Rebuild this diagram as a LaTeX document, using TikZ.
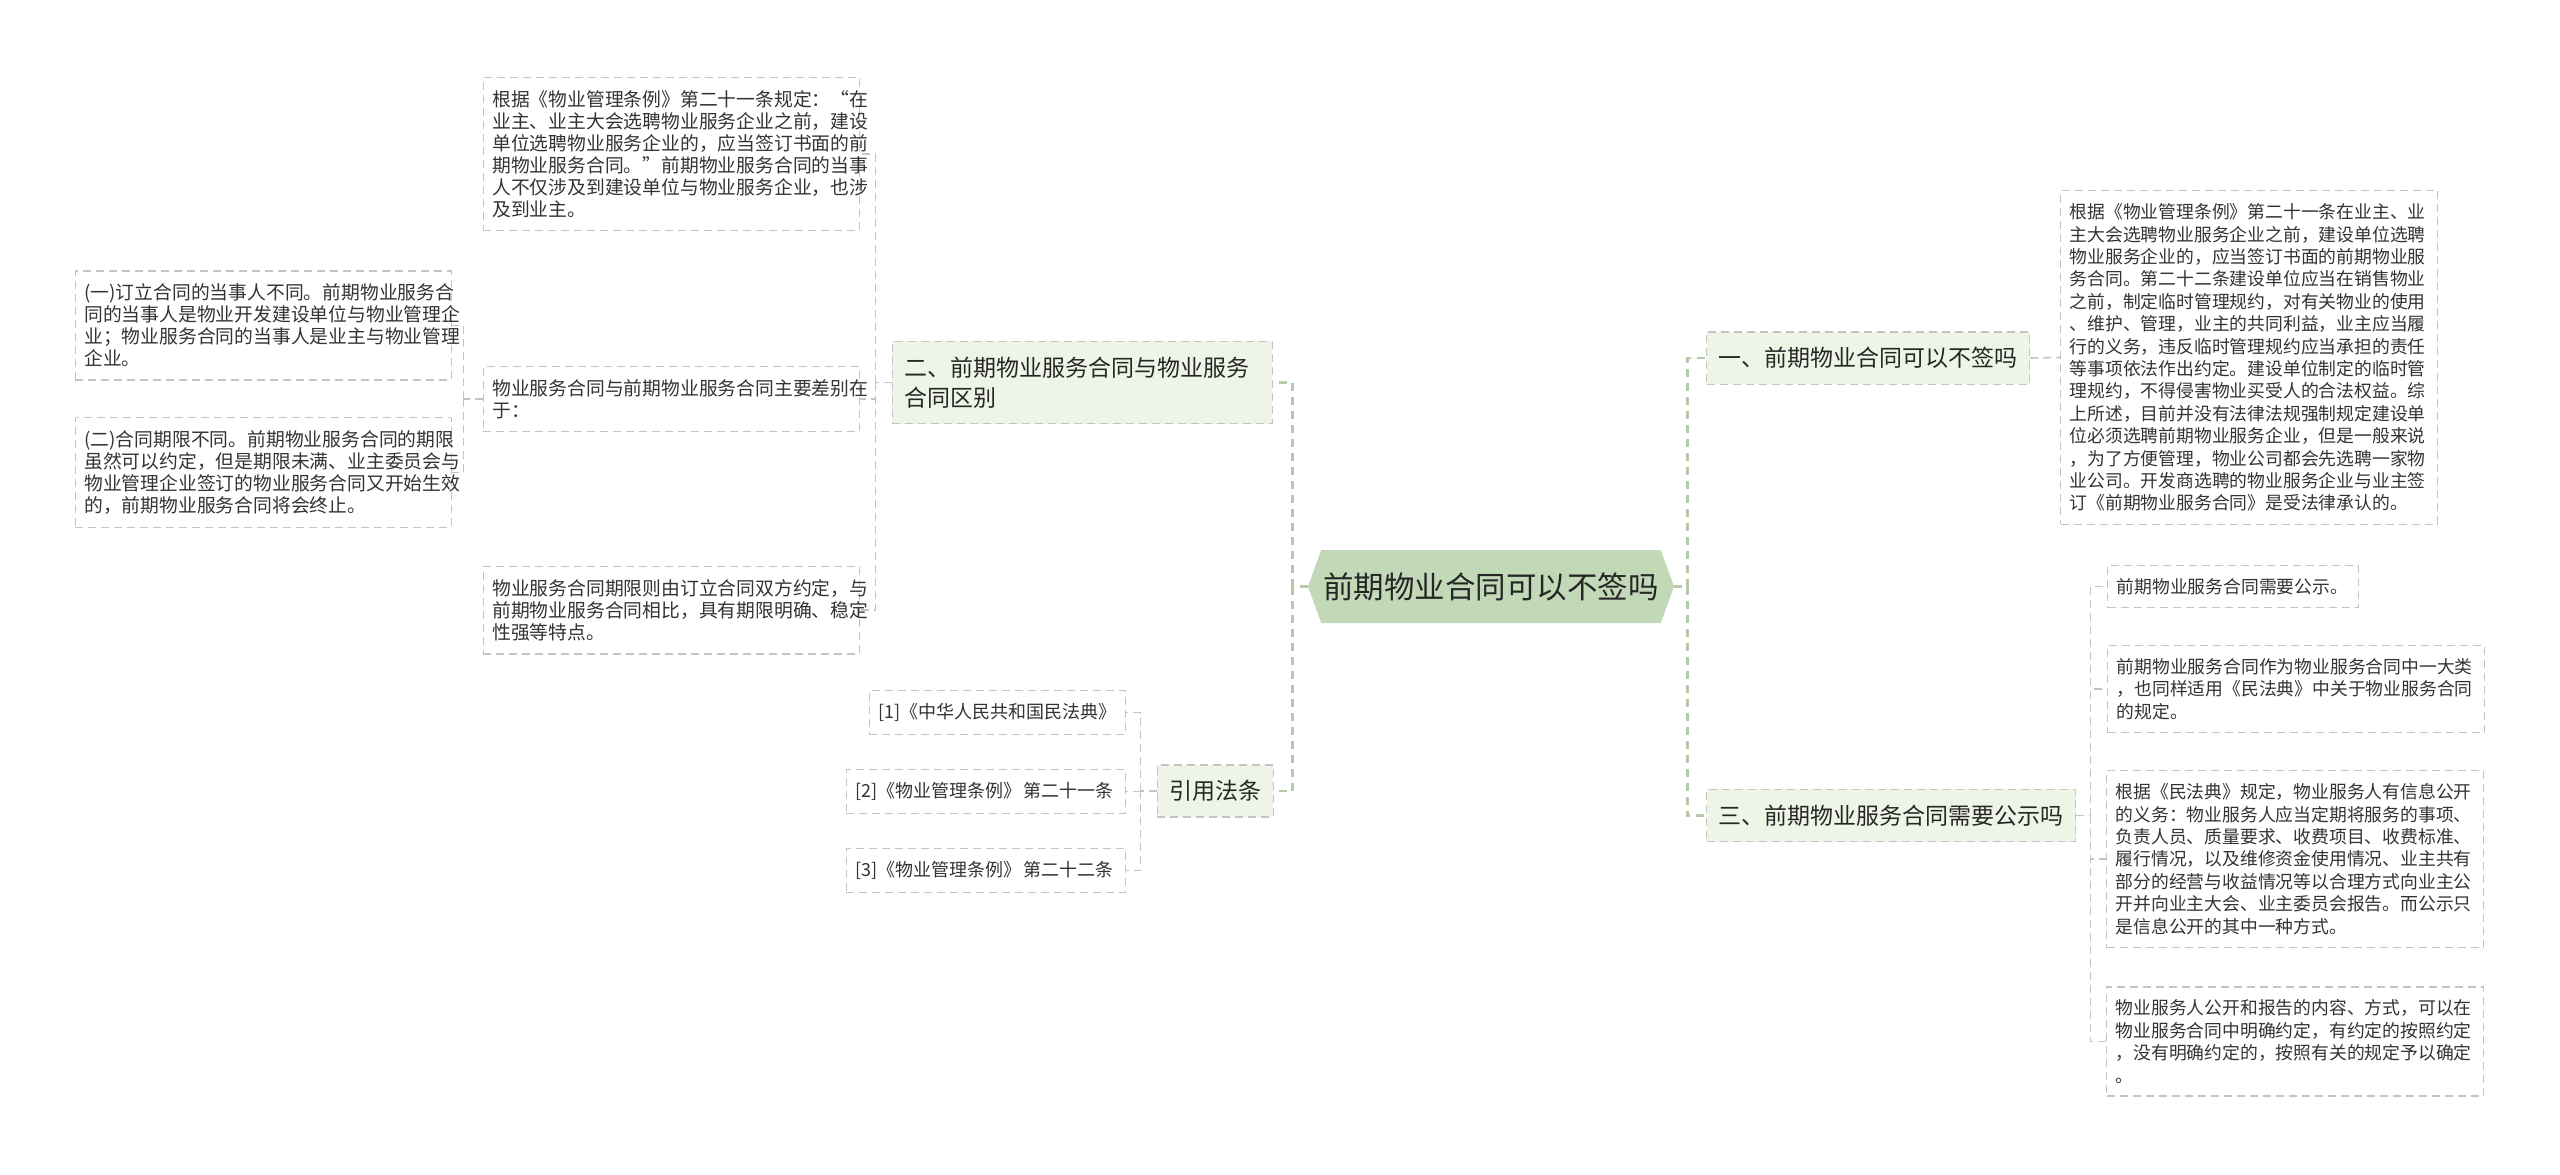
\documentclass[tikz,border=0pt]{standalone}
\usepackage{fontspec}
\setmainfont{Noto Sans CJK SC}
\usepackage{xcolor}
\usetikzlibrary{positioning,shapes.symbols}
\definecolor{rootfill}{HTML}{C2D9B8}
\definecolor{subfill}{HTML}{EEF5E6}
\definecolor{boxline}{HTML}{C4C4C4}
\definecolor{mainlink}{HTML}{B7C9AC}
\definecolor{txt}{HTML}{333333}
\tikzset{
  root/.style={signal,signal to=west and east,signal pointer angle=140,fill=rootfill,
               font=\fontsize{15.25pt}{18pt}\selectfont,text=black!85,
               minimum height=36.5pt,inner xsep=1pt},
  sub/.style={draw=boxline,dash pattern=on 4pt off 2.5pt,line width=0.7pt,fill=subfill,
              font=\fontsize{11.5pt}{15pt}\selectfont,text=black!85,align=left,
              inner xsep=6pt,inner ysep=7.75pt},
  leaf/.style={draw=boxline,dash pattern=on 4pt off 2.5pt,line width=0.7pt,fill=white,
               font=\fontsize{9.4pt}{11pt}\selectfont,text=txt,align=left,
               inner xsep=4.5pt,inner ysep=6.5pt,text width=179pt},
  rleaf/.style={leaf,font=\fontsize{8.9pt}{11.2pt}\selectfont,text width=179.5pt},
  refleaf/.style={leaf,font=\fontsize{9pt}{11pt}\selectfont,text width=130.5pt},
  lk/.style={draw=mainlink,line width=1.2pt,dash pattern=on 4pt off 3pt},
  ln/.style={draw=boxline,line width=0.8pt,dash pattern=on 4pt off 2.5pt},
}
\begin{document}
\begin{tikzpicture}[x=0.5pt,y=-0.5pt]
\useasboundingbox (0,0) rectangle (2560,1174);
% centre
\node[root] (root) at (1491,586.5) {前期物业合同可以不签吗};
% left: 二 and 引用法条
\node[sub,anchor=east,text width=178pt] (diff) at (1273,382.5) {二、前期物业服务合同与物业服务\\合同区别};
\node[sub,anchor=east] (law) at (1274,791) {引用法条};
\node[leaf,anchor=east] (rule21) at (860,154) {根据《物业管理条例》第二十一条规定：“在\\业主、业主大会选聘物业服务企业之前，建设\\单位选聘物业服务企业的，应当签订书面的前\\期物业服务合同。”前期物业服务合同的当事\\人不仅涉及到建设单位与物业服务企业，也涉\\及到业主。};
\node[leaf,anchor=east] (mainDiff) at (860,399) {物业服务合同与前期物业服务合同主要差别在\\于：};
\node[leaf,anchor=east] (term) at (860,610) {物业服务合同期限则由订立合同双方约定，与\\前期物业服务合同相比，具有期限明确、稳定\\性强等特点。};
\node[leaf,anchor=east] (party) at (452,325.5) {(一)订立合同的当事人不同。前期物业服务合\\同的当事人是物业开发建设单位与物业管理企\\业；物业服务合同的当事人是业主与物业管理\\企业。};
\node[leaf,anchor=east] (period) at (452,472.5) {(二)合同期限不同。前期物业服务合同的期限\\虽然可以约定，但是期限未满、业主委员会与\\物业管理企业签订的物业服务合同又开始生效\\的，前期物业服务合同将会终止。};
\node[refleaf,anchor=east,text width=119pt] (ref1) at (1126,712.5) {[1]《中华人民共和国民法典》};
\node[refleaf,anchor=east] (ref2) at (1126,791.5) {\mbox{[2]《物业管理条例》\hspace{1pt}第二十一条}};
\node[refleaf,anchor=east] (ref3) at (1126,870.5) {\mbox{[3]《物业管理条例》\hspace{1pt}第二十二条}};
% right: 一 and 三
\node[sub,anchor=west] (nosign) at (1706,358) {一、前期物业合同可以不签吗};
\node[sub,anchor=west] (publish) at (1706,815.5) {三、前期物业服务合同需要公示吗};
\node[rleaf,anchor=west] (basis) at (2060,357.5) {根据《物业管理条例》第二十一条在业主、业\\主大会选聘物业服务企业之前，建设单位选聘\\物业服务企业的，应当签订书面的前期物业服\\务合同。第二十二条建设单位应当在销售物业\\之前，制定临时管理规约，对有关物业的使用\\、维护、管理，业主的共同利益，业主应当履\\行的义务，违反临时管理规约应当承担的责任\\等事项依法作出约定。建设单位制定的临时管\\理规约，不得侵害物业买受人的合法权益。综\\上所述，目前并没有法律法规强制规定建设单\\位必须选聘前期物业服务企业，但是一般来说\\，为了方便管理，物业公司都会先选聘一家物\\业公司。开发商选聘的物业服务企业与业主签\\订《前期物业服务合同》是受法律承认的。};
\node[rleaf,anchor=west,text width=116.5pt] (need) at (2107,586.5) {前期物业服务合同需要公示。};
\node[rleaf,anchor=west] (civil) at (2107,689) {前期物业服务合同作为物业服务合同中一大类\\，也同样适用《民法典》中关于物业服务合同\\的规定。};
\node[rleaf,anchor=west] (info) at (2106,859) {根据《民法典》规定，物业服务人有信息公开\\的义务：物业服务人应当定期将服务的事项、\\负责人员、质量要求、收费项目、收费标准、\\履行情况，以及维修资金使用情况、业主共有\\部分的经营与收益情况等以合理方式向业主公\\开并向业主大会、业主委员会报告。而公示只\\是信息公开的其中一种方式。};
\node[rleaf,anchor=west] (howto) at (2106,1041.5) {物业服务人公开和报告的内容、方式，可以在\\物业服务合同中明确约定，有约定的按照约定\\，没有明确约定的，按照有关的规定予以确定\\。};
% links
\draw[lk] (root.west) -- ++(-15,0) coordinate (lj);
\draw[lk] (lj) |- (diff.east);
\draw[lk] (lj) |- (law.east);
\draw[lk] (root.east) -- ++(13,0) coordinate (rj);
\draw[lk] (rj) |- (nosign.west);
\draw[lk] (rj) |- (publish.west);
\draw[ln] (diff.west) -- ++(-16,0) coordinate (dj);
\foreach \n in {rule21,mainDiff,term} \draw[ln] (dj) |- (\n.east);
\draw[ln] (mainDiff.west) -- ++(-19,0) coordinate (mj);
\foreach \n in {party,period} \draw[ln] (mj) |- (\n.east);
\draw[ln] (law.west) -- ++(-16,0) coordinate (fj);
\foreach \n in {ref1,ref2,ref3} \draw[ln] (fj) |- (\n.east);
\draw[ln] (nosign.east) -- (basis.west);
\draw[ln] (publish.east) -- ++(14,0) coordinate (pj);
\foreach \n in {need,civil,info,howto} \draw[ln] (pj) |- (\n.west);
\end{tikzpicture}
\end{document}
